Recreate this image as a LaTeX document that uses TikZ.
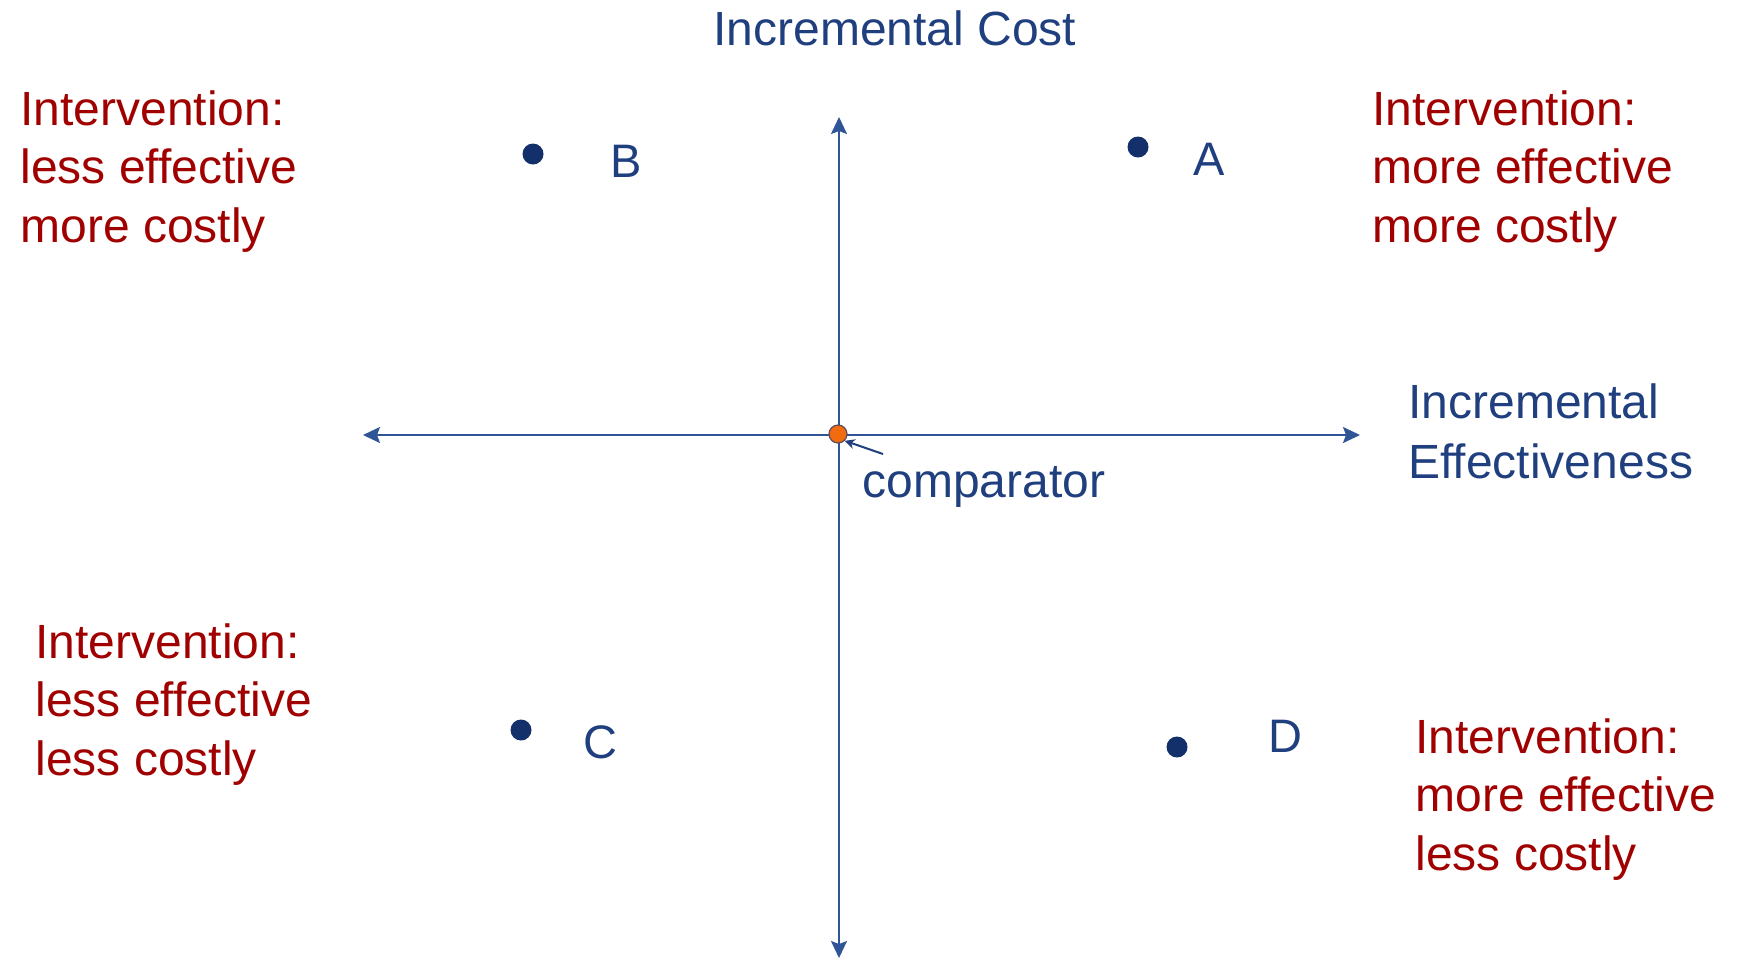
\documentclass[tikz,border=0pt]{standalone}
\usepackage{fontspec}
\setmainfont{Liberation Sans}
\usepackage{tikz}
\usetikzlibrary{arrows.meta,positioning}
\definecolor{axisblue}{HTML}{2F5597}
\definecolor{inkblue}{HTML}{1F3F7F}
\definecolor{dotblue}{HTML}{14306A}
\definecolor{quadred}{HTML}{A00000}
\definecolor{compdot}{HTML}{F26B0F}
\tikzset{
  axis/.style={draw=axisblue, line width=1pt, {Stealth[length=8.5pt,width=8pt,inset=1.5pt]}-{Stealth[length=8.5pt,width=8pt,inset=1.5pt]}},
  pt/.style={circle, fill=dotblue, inner sep=0pt, minimum size=10.5pt},
  ptlbl/.style={anchor=base west, inner sep=0pt, text=inkblue, font=\fontsize{23.5}{28}\selectfont},
  axlbl/.style={anchor=base west, inner sep=0pt, text=inkblue, align=left, font=\fontsize{24}{30}\selectfont},
  quad/.style={anchor=base west, inner sep=0pt, text=quadred, align=left, font=\fontsize{24}{29.25}\selectfont},
  pointer/.style={-{Stealth[length=5pt,width=5pt]}, draw=inkblue, line width=1pt}
}
\begin{document}
\begin{tikzpicture}[x=0.5pt, y=-0.5pt]
\useasboundingbox (0,0) rectangle (1738,960);
% axes
\coordinate (west) at (363,435);
\coordinate (east) at (1360,435);
\coordinate (north) at (839,117);
\coordinate (south) at (839,958);
\draw[axis] (west) -- (east);
\draw[axis] (south) -- (north);
\node[axlbl] (costlbl) at (713,45) {Incremental Cost};
\node[axlbl] (efflbl) at (1408,478) {Incremental\\Effectiveness};
% comparator at the origin
\node[circle, fill=compdot, draw=inkblue!70!compdot, line width=0.6pt, inner sep=0pt, minimum size=9pt] (origin) at (838,434) {};
\coordinate (tail) at (883,454);
\draw[pointer] (tail) -- (origin.south east);
\node[ptlbl, font=\fontsize{24}{28}\selectfont] (complbl) at (862,497) {comparator};
% the four interventions
\node[pt] (ptA) at (1138,147) {};
\node[pt] (ptB) at (533,154) {};
\node[pt] (ptC) at (521,730) {};
\node[pt] (ptD) at (1177,747) {};
\node[ptlbl] (lblA) at (1193,175) {A};
\node[ptlbl] (lblB) at (610,177) {B};
\node[ptlbl] (lblC) at (583,758) {C};
\node[ptlbl] (lblD) at (1268,752) {D};
% quadrant notes (base = last line)
\node[quad] (quadB) at (20,242) {Intervention:\\less effective\\more costly};
\node[quad] (quadA) at (1372,242) {Intervention:\\more effective\\more costly};
\node[quad] (quadC) at (35,775) {Intervention:\\less effective\\less costly};
\node[quad] (quadD) at (1415,870) {Intervention:\\more effective\\less costly};
\end{tikzpicture}
\end{document}
